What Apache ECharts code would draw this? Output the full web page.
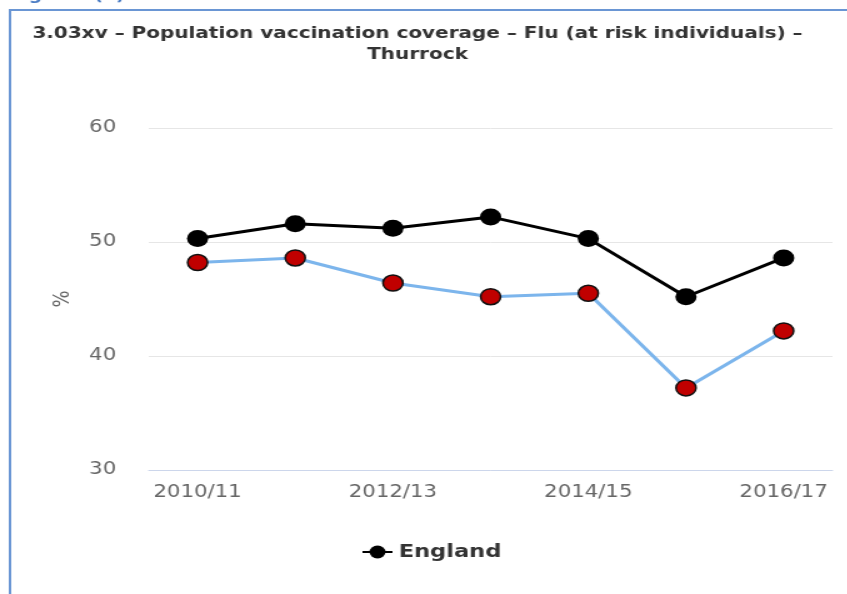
<!DOCTYPE html>
<html>
<head>
<meta charset="UTF-8">
<title>Flu vaccination coverage</title>
<script src="https://cdn.jsdelivr.net/npm/echarts@6/dist/echarts.min.js"></script>
<style>
  html, body { margin: 0; padding: 0; background: #fff; overflow: hidden; }
  /* the source image is stretched sideways, so the chart is too */
  #main { width: 678px; height: 594px; transform: scaleX(1.25); transform-origin: 0 0; }
</style>
</head>
<body>
<div id="main"></div>
<script>
var years = ['2010/11', '2011/12', '2012/13', '2013/14', '2014/15', '2015/16', '2016/17'];
var englandValues = [50.3, 51.6, 51.2, 52.2, 50.3, 45.2, 48.6];
var thurrockValues = [48.2, 48.6, 46.4, 45.2, 45.5, 37.2, 42.2];
var yTicks = [30, 40, 50, 60];

var myChart = echarts.init(document.getElementById('main'));

var option = {
    backgroundColor: '#fff',
    animation: false,
    title: {
        text: '3.03xv \u2013 Population vaccination coverage \u2013 Flu (at risk individuals) \u2013\nThurrock',
        left: 329,
        textAlign: 'center',
        top: 18,
        textStyle: {
            fontFamily: 'DejaVu Sans',
            fontWeight: 'bold',
            fontSize: 16,
            lineHeight: 21,
            color: '#333'
        }
    },
    graphic: [
        {
            type: 'text',
            left: 2,
            top: -11,
            style: {
                text: 'England (3)',
                fontFamily: 'DejaVu Sans',
                fontWeight: 'bold',
                fontSize: 15,
                fill: '#4a7cc4'
            }
        },
        {
            type: 'polyline',
            shape: { points: [[8, 594], [8, 10], [678, 10]] },
            style: { stroke: '#6a96d4', lineWidth: 2, fill: null }
        }
    ],
    legend: {
        data: ['England'],
        left: 284,
        top: 538,
        itemWidth: 24,
        itemHeight: 16,
        itemGap: 8,
        textStyle: {
            fontFamily: 'DejaVu Sans',
            fontWeight: 'bold',
            fontSize: 18,
            color: '#333'
        }
    },
    grid: {
        left: 119,
        right: 12,
        top: 128,
        bottom: 124
    },
    xAxis: {
        type: 'category',
        data: years,
        boundaryGap: true,
        axisLine: { lineStyle: { color: '#ccd6eb' } },
        axisTick: { alignWithLabel: true, interval: 0, length: 6, lineStyle: { color: '#ccd6eb' } },
        axisLabel: {
            interval: 1,
            margin: 14,
            fontFamily: 'DejaVu Sans',
            fontSize: 17,
            color: '#666'
        }
    },
    yAxis: {
        type: 'value',
        min: yTicks[0],
        max: yTicks[yTicks.length - 1],
        interval: 10,
        name: '%',
        nameLocation: 'middle',
        nameGap: 60,
        nameRotate: 90,
        nameTextStyle: { fontFamily: 'DejaVu Sans', fontSize: 18, color: '#666' },
        axisLine: { show: false },
        axisTick: { show: false },
        axisLabel: {
            margin: 26,
            fontFamily: 'DejaVu Sans',
            fontSize: 17,
            color: '#666'
        },
        splitLine: { lineStyle: { color: '#e6e6e6', width: 1 } }
    },
    series: [
        {
            name: 'England',
            type: 'line',
            data: englandValues,
            symbol: 'circle',
            symbolSize: 17,
            lineStyle: { color: '#000', width: 3 },
            itemStyle: { color: '#000', borderColor: '#000', borderWidth: 0 },
            z: 3
        },
        {
            name: 'Thurrock',
            type: 'line',
            data: thurrockValues,
            symbol: 'circle',
            symbolSize: 16,
            lineStyle: { color: '#7cb5ec', width: 3 },
            itemStyle: { color: '#c00000', borderColor: '#111', borderWidth: 1.5 },
            z: 2
        }
    ]
};
myChart.setOption(option);
</script>
</body>
</html>
